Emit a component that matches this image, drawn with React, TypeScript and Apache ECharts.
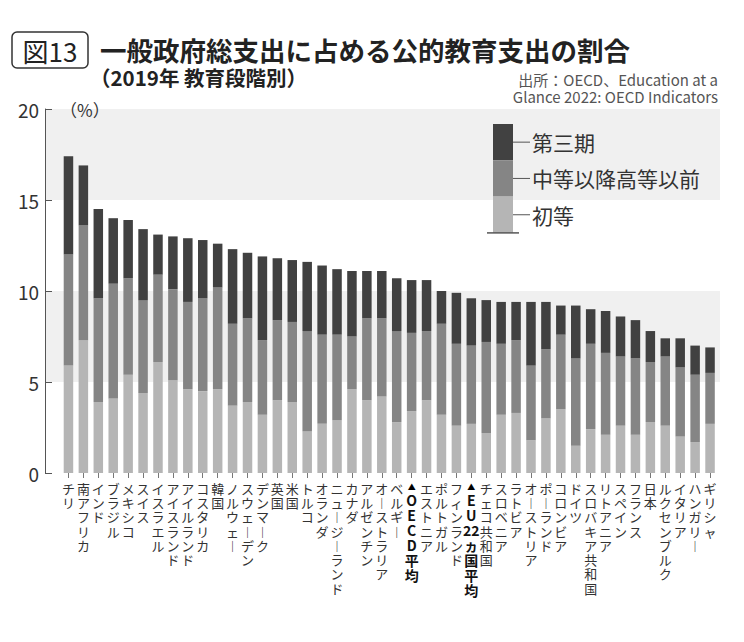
import React, { useEffect, useRef } from 'react';
import * as echarts from 'echarts';

const categories = [
  'チリ', '南アフリカ', 'インド', 'ブラジル', 'メキシコ', 'スイス', 'イスラエル', 'アイスランド',
  'アイルランド', 'コスタリカ', '韓国', 'ノルウェー', 'スウェーデン', 'デンマーク', '英国', '米国',
  'トルコ', 'オランダ', 'ニュージーランド', 'カナダ', 'アルゼンチン', 'オーストラリア', 'ベルギー',
  'OECD平均', 'エストニア', 'ポルトガル', 'フィンランド', 'EU22ヵ国平均', 'チェコ共和国', 'スロベニア',
  'ラトビア', 'オーストリア', 'ポーランド', 'コロンビア', 'ドイツ', 'スロバキア共和国', 'リトアニア',
  'スペイン', 'フランス', '日本', 'ルクセンブルク', 'イタリア', 'ハンガリー', 'ギリシャ',
];
const averages = ['OECD平均', 'EU22ヵ国平均'];

// 初等
const primary = [
  5.9, 7.3, 3.9, 4.1, 5.4, 4.4, 6.1, 5.1, 4.6, 4.5, 4.6, 3.7, 3.9, 3.2, 4.0, 3.9,
  2.3, 2.7, 2.9, 4.6, 4.0, 4.2, 2.8, 3.4, 4.0, 3.2, 2.6, 2.7, 2.2, 3.2, 3.3, 1.8,
  3.0, 3.5, 1.5, 2.4, 2.1, 2.6, 2.1, 2.8, 2.6, 2.0, 1.7, 2.7,
];
// 中等以降高等以前
const secondary = [
  6.1, 6.3, 5.7, 6.3, 5.3, 5.1, 4.8, 5.0, 4.8, 5.1, 5.6, 4.5, 4.6, 4.1, 4.4, 4.4,
  5.5, 4.9, 4.7, 2.9, 4.5, 4.3, 5.0, 4.3, 3.8, 5.0, 4.5, 4.3, 5.0, 3.9, 4.0, 4.1,
  3.8, 4.1, 4.8, 4.7, 4.5, 3.8, 4.2, 3.3, 3.8, 3.8, 3.7, 2.8,
];
// 第三期
const tertiary = [
  5.4, 3.3, 4.9, 3.6, 3.2, 3.9, 2.2, 2.9, 3.5, 3.2, 2.4, 4.1, 3.6, 4.6, 3.4, 3.4,
  3.8, 3.8, 3.6, 3.6, 2.6, 2.6, 2.9, 2.9, 2.8, 1.8, 2.8, 2.6, 2.3, 2.3, 2.1, 3.5,
  2.6, 1.6, 2.9, 1.9, 2.3, 2.2, 2.1, 1.7, 1.0, 1.6, 1.6, 1.4,
];
const seriesNames = ['初等', '中等以降高等以前', '第三期'];
const seriesColors = ['#b5b5b5', '#858585', '#414141'];
const yMin = 0;
const yMax = 20;
const yStep = 5;

const FONT = "'Noto Sans CJK JP', 'Noto Sans', sans-serif";

function labelFor(name: string): string {
  const tokens = name.match(/\d+|./gu) || [];
  if (averages.includes(name)) {
    return ['{a|▲}', ...tokens.map((t) => `{b|${t}}`)].join('\n');
  }
  return tokens.map((t) => (t === 'ー' ? '︱' : t)).join('\n');
}

export default function App() {
  const ref = useRef<HTMLDivElement>(null);
  useEffect(() => {
    if (!ref.current) return;
    const chart = echarts.init(ref.current, undefined, { renderer: 'svg' });
    const legendTop = 124;
    const segH = 36.3;
    const legendX = 493;
    const legendItems = [seriesNames[2], seriesNames[1], seriesNames[0]];
    const legendCols = [seriesColors[2], seriesColors[1], seriesColors[0]];
    const legendGraphics: any[] = [];
    legendItems.forEach((n, i) => {
      legendGraphics.push({
        type: 'rect',
        z: 100,
        shape: { x: legendX, y: legendTop + i * segH, width: 20, height: segH },
        style: { fill: legendCols[i] },
      });
      legendGraphics.push({
        type: 'line',
        z: 100,
        shape: { x1: legendX + 20, y1: legendTop + i * segH + segH / 2, x2: legendX + 37, y2: legendTop + i * segH + segH / 2 },
        style: { stroke: '#555', lineWidth: 1 },
      });
      legendGraphics.push({
        type: 'text',
        z: 100,
        x: legendX + 39,
        y: legendTop + i * segH + segH / 2,
        style: { text: n, fontSize: 21, fill: '#333', fontFamily: FONT, verticalAlign: 'middle', align: 'left' },
      });
    });
    legendGraphics.push({
      type: 'line',
      z: 100,
      shape: { x1: legendX - 6, y1: legendTop + 3 * segH, x2: legendX + 26, y2: legendTop + 3 * segH },
      style: { stroke: '#555', lineWidth: 1.5 },
    });

    chart.setOption({
      animation: false,
      textStyle: { fontFamily: FONT },
      grid: [
        { left: 45, right: 24, top: 109, bottom: 169 },
        { left: 61, right: 26.5, top: 109, bottom: 169 },
      ],
      xAxis: [
        { gridIndex: 0, type: 'value', show: false, min: 0, max: 1 },
        {
          gridIndex: 1,
          type: 'category',
          data: categories,
          axisLine: { show: false },
          axisTick: { show: true, alignWithLabel: true, length: 5, lineStyle: { color: '#777' } },
          axisLabel: {
            interval: 0,
            hideOverlap: false,
            formatter: labelFor,
            fontSize: 13,
            lineHeight: 14.3,
            color: '#333',
            margin: 8,
            fontFamily: FONT,
            rich: {
              a: { fontSize: 8, lineHeight: 11, color: '#000', fontFamily: FONT },
              b: { fontSize: 14, lineHeight: 15, fontWeight: 'bold', color: '#111', fontFamily: FONT },
            },
          },
        },
      ],
      yAxis: [
        {
          gridIndex: 0,
          type: 'value',
          min: yMin,
          max: yMax,
          interval: yStep,
          axisLine: { show: true, lineStyle: { color: '#555', width: 1 } },
          axisTick: { show: true, inside: true, length: 7, lineStyle: { color: '#555' } },
          axisLabel: { fontSize: 19, color: '#333', margin: 6, fontFamily: FONT },
          splitLine: { show: false },
          splitArea: { show: true, areaStyle: { color: ['rgba(255,255,255,0)', '#f0f0f0'] } },
        },
        { gridIndex: 1, type: 'value', min: yMin, max: yMax, interval: yStep, show: false },
      ],
      series: [primary, secondary, tertiary].map((d, i) => ({
        name: seriesNames[i],
        type: 'bar',
        stack: 'edu',
        xAxisIndex: 1,
        yAxisIndex: 1,
        barWidth: 9.5,
        data: d,
        itemStyle: { color: seriesColors[i] },
      })),
      graphic: [
        {
          type: 'rect',
          z: 100,
          shape: { x: 12, y: 32, width: 76, height: 36, r: 5 },
          style: { fill: '#fff', stroke: '#333', lineWidth: 1.5 },
        },
        {
          type: 'text',
          z: 101,
          x: 50,
          y: 50,
          style: { text: '図13', fontSize: 26, fill: '#222', fontFamily: FONT, align: 'center', verticalAlign: 'middle' },
        },
        {
          type: 'text',
          z: 100,
          x: 100,
          y: 49,
          style: { text: '一般政府総支出に占める公的教育支出の割合', fontSize: 26.5, fontWeight: 'bold', fill: '#222', fontFamily: FONT, align: 'left', verticalAlign: 'middle' },
        },
        {
          type: 'text',
          z: 100,
          x: 90,
          y: 77,
          style: { text: '（2019年 教育段階別）', fontSize: 20.5, fontWeight: 'bold', fill: '#222', fontFamily: FONT, align: 'left', verticalAlign: 'middle' },
        },
        {
          type: 'text',
          z: 100,
          x: 718,
          y: 79,
          style: { text: '出所：OECD、Education at a', fontSize: 15, fill: '#555', fontFamily: FONT, align: 'right', verticalAlign: 'middle' },
        },
        {
          type: 'text',
          z: 100,
          x: 718,
          y: 96,
          style: { text: 'Glance 2022: OECD Indicators', fontSize: 15, fill: '#555', fontFamily: FONT, align: 'right', verticalAlign: 'middle' },
        },
        {
          type: 'text',
          z: 100,
          x: 60,
          y: 109,
          style: { text: '（%）', fontSize: 17, fill: '#333', fontFamily: FONT, align: 'left', verticalAlign: 'middle' },
        },
        ...legendGraphics,
      ],
    });
    return () => chart.dispose();
  }, []);
  return <div ref={ref} style={{ width: 744, height: 642, position: 'absolute', left: 0, top: 0 }} />;
}
